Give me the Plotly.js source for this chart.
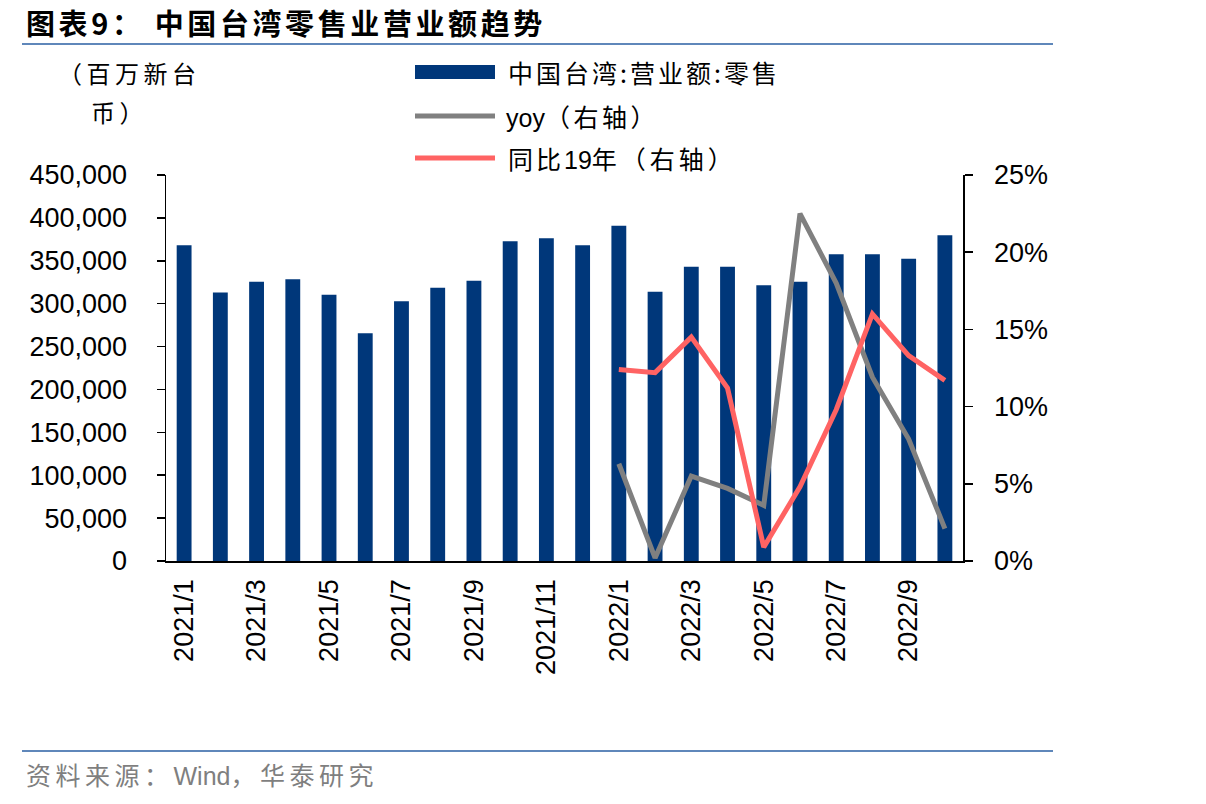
<!DOCTYPE html>
<html>
<head>
<meta charset="utf-8">
<script src="https://cdn.plot.ly/plotly-3.0.1.min.js"></script>
<style>
  html, body { margin: 0; padding: 0; background: #ffffff; }
  #chart { width: 1206px; height: 804px; }
</style>
</head>
<body>
<div id="chart"></div>
<script>
// Monthly categories, 2021/1 – 2022/10
const months = [
  "2021/1", "2021/2", "2021/3", "2021/4", "2021/5", "2021/6",
  "2021/7", "2021/8", "2021/9", "2021/10", "2021/11", "2021/12",
  "2022/1", "2022/2", "2022/3", "2022/4", "2022/5", "2022/6",
  "2022/7", "2022/8", "2022/9", "2022/10"
];

// Retail turnover, million NT$
const retailSales = [
  368000, 313000, 325600, 328400, 310500, 265400,
  302700, 318600, 326800, 372700, 376200, 368000,
  390900, 314000, 343100, 343100, 321400, 325600,
  357500, 357500, 352400, 379700
];

// Growth series (right axis, %), available from 2022/1
const growthMonths = [
  "2022/1", "2022/2", "2022/3", "2022/4", "2022/5",
  "2022/6", "2022/7", "2022/8", "2022/9", "2022/10"
];
const yoy = [6.3, 0.2, 5.5, 4.7, 3.6, 22.5, 18.0, 11.9, 7.9, 2.1];
const vs2019 = [12.4, 12.2, 14.5, 11.2, 0.9, 4.8, 9.8, 16.0, 13.3, 11.7];

// Labelled months on the category axis
const tickMonths = [
  "2021/1", "2021/3", "2021/5", "2021/7", "2021/9", "2021/11",
  "2022/1", "2022/3", "2022/5", "2022/7", "2022/9"
];

// Series names
const barName = "中国台湾:营业额:零售";
const yoyName = "yoy（右轴）";
const vs2019Name = "同比19年（右轴）";

const NAVY = "#00377A";
const GREY = "#808080";
const CORAL = "#FF6363";
const CJK = "'Noto Sans CJK SC', 'Noto Sans', sans-serif";
const LATIN = "'Liberation Sans', Arial, sans-serif";

// Plot area in pixels
const W = 1206, H = 804;
const PL = 166, PR = 963, PT = 175, PB = 561;
const fx = px => (px - PL) / (PR - PL);
const fy = py => (PB - py) / (PB - PT);

// Wider tracking for the CJK captions
const spaced = (txt, px) => `<span style="letter-spacing:${px}px">${txt}</span>`;
const latin = txt => `<span style="font-family:'Liberation Sans'">${txt}</span>`;

// Tick marks sit on the boundaries between pairs of months
const boundaryTicks = [];
for (let i = 0; i <= months.length; i += 2) boundaryTicks.push(i - 0.5);

const traces = [
  {
    type: "bar",
    name: barName,
    x: months,
    y: retailSales,
    marker: { color: NAVY, line: { width: 0 } },
    xaxis: "x",
    yaxis: "y",
    hoverinfo: "x+y"
  },
  {
    type: "scatter",
    mode: "lines",
    name: yoyName,
    x: growthMonths,
    y: yoy,
    line: { color: GREY, width: 5 },
    xaxis: "x",
    yaxis: "y2"
  },
  {
    type: "scatter",
    mode: "lines",
    name: vs2019Name,
    x: growthMonths,
    y: vs2019,
    line: { color: CORAL, width: 5 },
    xaxis: "x",
    yaxis: "y2"
  }
];

const tickFont = { family: LATIN, size: 27, color: "#000000" };

const layout = {
  width: W,
  height: H,
  margin: { l: PL, r: W - PR, t: PT, b: H - PB, pad: 0 },
  paper_bgcolor: "#ffffff",
  plot_bgcolor: "#ffffff",
  showlegend: false,
  bargap: 0.59,
  xaxis: {
    type: "category",
    range: [-0.5, months.length - 0.5],
    tickmode: "array",
    tickvals: tickMonths,
    ticktext: tickMonths,
    tickangle: -90,
    ticks: "",
    ticklabelstandoff: 6,
    tickfont: tickFont,
    showline: true,
    linecolor: "#000000",
    linewidth: 1.5,
    showgrid: false,
    zeroline: false,
    fixedrange: true
  },
  xaxis2: {
    overlaying: "x",
    anchor: "y",
    side: "bottom",
    type: "linear",
    range: [-0.5, months.length - 0.5],
    tickmode: "array",
    tickvals: boundaryTicks,
    ticks: "outside",
    ticklen: 8,
    tickwidth: 1.5,
    tickcolor: "#000000",
    showticklabels: false,
    showline: false,
    showgrid: false,
    zeroline: false,
    fixedrange: true
  },
  yaxis: {
    range: [0, 450000],
    tickmode: "linear",
    tick0: 0,
    dtick: 50000,
    tickformat: ",d",
    ticks: "outside",
    ticklen: 8,
    tickwidth: 1.5,
    tickcolor: "#000000",
    ticklabelstandoff: 24,
    tickfont: tickFont,
    showline: true,
    linecolor: "#000000",
    linewidth: 1.5,
    showgrid: false,
    zeroline: false,
    fixedrange: true
  },
  yaxis2: {
    overlaying: "y",
    side: "right",
    anchor: "x",
    range: [0, 25],
    tickmode: "linear",
    tick0: 0,
    dtick: 5,
    ticksuffix: "%",
    ticks: "outside",
    ticklen: 8,
    tickwidth: 1.5,
    tickcolor: "#000000",
    ticklabelstandoff: 16,
    tickfont: tickFont,
    showline: true,
    linecolor: "#000000",
    linewidth: 1.5,
    showgrid: false,
    zeroline: false,
    fixedrange: true
  },
  shapes: [
    // header and footer rules
    { type: "line", xref: "paper", yref: "paper",
      x0: fx(22), x1: fx(1053), y0: fy(44), y1: fy(44),
      line: { color: "#5F87BA", width: 2 } },
    { type: "line", xref: "paper", yref: "paper",
      x0: fx(22), x1: fx(1053), y0: fy(751), y1: fy(751),
      line: { color: "#5F87BA", width: 2 } },
    // legend keys
    { type: "rect", xref: "paper", yref: "paper",
      x0: fx(415), x1: fx(495), y0: fy(79), y1: fy(65),
      fillcolor: NAVY, line: { width: 0 } },
    { type: "line", xref: "paper", yref: "paper",
      x0: fx(415), x1: fx(495), y0: fy(116), y1: fy(116),
      line: { color: GREY, width: 5 } },
    { type: "line", xref: "paper", yref: "paper",
      x0: fx(415), x1: fx(495), y0: fy(158), y1: fy(158),
      line: { color: CORAL, width: 5 } }
  ],
  annotations: [
    { text: "<b>" + spaced("图表9： 中国台湾零售业营业额趋势", 3.6) + "</b>",
      xref: "paper", yref: "paper", x: fx(24), y: fy(22),
      xanchor: "left", yanchor: "middle", showarrow: false,
      font: { family: CJK, size: 29, color: "#000000" } },
    { text: spaced("（百万新台", 4.5),
      xref: "paper", yref: "paper", x: fx(129), y: fy(73),
      xanchor: "center", yanchor: "middle", showarrow: false,
      font: { family: CJK, size: 24, color: "#000000" } },
    { text: spaced("币）", 4.5),
      xref: "paper", yref: "paper", x: fx(119), y: fy(111),
      xanchor: "center", yanchor: "middle", showarrow: false,
      font: { family: CJK, size: 24, color: "#000000" } },
    { text: spaced(barName, 3),
      xref: "paper", yref: "paper", x: fx(506), y: fy(72),
      xanchor: "left", yanchor: "middle", showarrow: false,
      font: { family: CJK, size: 25, color: "#000000" } },
    { text: latin("yoy") + spaced("（右轴）", 3.5),
      xref: "paper", yref: "paper", x: fx(504), y: fy(116),
      xanchor: "left", yanchor: "middle", showarrow: false,
      font: { family: CJK, size: 25, color: "#000000" } },
    { text: spaced("同比", 3) + latin("19") + spaced("年（右轴）", 4),
      xref: "paper", yref: "paper", x: fx(506), y: fy(158),
      xanchor: "left", yanchor: "middle", showarrow: false,
      font: { family: CJK, size: 25, color: "#000000" } },
    { text: spaced("资料来源：", 4.5) + latin("Wind") + spaced("，华泰研究", 4.5),
      xref: "paper", yref: "paper", x: fx(24), y: fy(774),
      xanchor: "left", yanchor: "middle", showarrow: false,
      font: { family: CJK, size: 25, color: "#7F7F7F" } }
  ]
};

Plotly.newPlot("chart", traces, layout, { displayModeBar: false, staticPlot: true });
</script>
</body>
</html>
